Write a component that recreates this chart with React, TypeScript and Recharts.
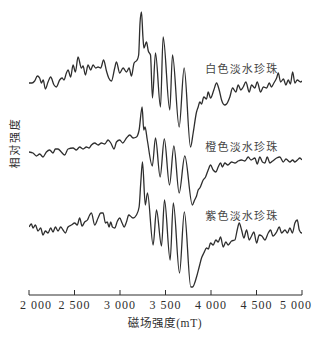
import React from 'react';
import { LineChart, Line, XAxis, YAxis, ReferenceDot } from 'recharts';

// [magnetic field (mT), relative intensity], traces stacked top to bottom
const whitePearl: [number, number][] = [
  [2000, 212], [2033, 212], [2062, 214], [2092, 219], [2117, 217], [2136, 212], [2156, 215], [2180, 206],
  [2209, 213], [2238, 218], [2275, 210], [2301, 208], [2337, 215], [2363, 217], [2385, 215], [2411, 222],
  [2429, 225], [2458, 218], [2484, 230], [2510, 223], [2539, 238], [2576, 227], [2594, 229], [2620, 220],
  [2649, 230], [2678, 225], [2704, 230], [2733, 227], [2759, 228], [2788, 227], [2820, 235], [2851, 224],
  [2876, 217], [2906, 214], [2942, 227], [2961, 233], [2997, 222], [3034, 227], [3071, 223], [3100, 227],
  [3126, 219], [3155, 232], [3188, 235], [3205, 240], [3220, 272], [3236, 283], [3252, 258], [3263, 247],
  [3291, 253], [3311, 244], [3335, 240], [3357, 197], [3390, 242], [3445, 188], [3474, 258], [3547, 185],
  [3577, 240], [3650, 168], [3705, 227], [3775, 148], [3804, 162], [3841, 183], [3859, 188], [3877, 193],
  [3896, 191], [3921, 198], [3951, 196], [3969, 203], [3995, 197], [4031, 205], [4061, 212], [4090, 205],
  [4116, 195], [4150, 190], [4171, 191], [4207, 198], [4237, 207], [4273, 203], [4299, 210], [4328, 205],
  [4354, 208], [4383, 213], [4420, 203], [4446, 210], [4482, 207], [4508, 213], [4545, 203], [4576, 208],
  [4611, 207], [4640, 212], [4664, 208], [4691, 212], [4721, 217], [4739, 222], [4765, 213], [4796, 216],
  [4823, 210], [4849, 215], [4873, 211], [4897, 223], [4922, 212], [4948, 215], [4985, 213], [5000, 214],
];

const orangePearl: [number, number][] = [
  [2000, 143], [2044, 142], [2081, 139], [2118, 141], [2154, 138], [2191, 143], [2227, 145], [2264, 142],
  [2290, 146], [2319, 146], [2355, 143], [2392, 140], [2429, 146], [2484, 147], [2520, 145], [2557, 148],
  [2594, 146], [2631, 148], [2660, 147], [2686, 150], [2722, 152], [2760, 150], [2796, 152], [2832, 151],
  [2869, 155], [2899, 152], [2935, 146], [2961, 153], [2997, 155], [3030, 152], [3071, 157], [3108, 160],
  [3144, 157], [3181, 158], [3210, 165], [3243, 188], [3261, 165], [3275, 168], [3300, 155], [3355, 129],
  [3390, 157], [3441, 118], [3487, 156], [3544, 110], [3592, 149], [3650, 102], [3712, 139], [3795, 90],
  [3820, 95], [3841, 99], [3859, 105], [3877, 107], [3914, 115], [3940, 118], [3969, 125], [3995, 130],
  [4024, 125], [4053, 123], [4079, 128], [4105, 132], [4125, 128], [4152, 132], [4185, 130], [4226, 133],
  [4263, 132], [4299, 134], [4336, 135], [4372, 134], [4409, 138], [4440, 135], [4482, 137], [4508, 131],
  [4537, 138], [4565, 133], [4592, 132], [4618, 138], [4647, 132], [4677, 134], [4721, 137], [4757, 138],
  [4794, 133], [4824, 136], [4867, 133], [4897, 135], [4922, 133], [4950, 135], [4977, 137], [5000, 135],
];

const purplePearl: [number, number][] = [
  [2000, 68], [2026, 71], [2044, 67], [2070, 70], [2099, 64], [2128, 67], [2154, 60], [2180, 64],
  [2209, 62], [2238, 67], [2264, 63], [2290, 68], [2319, 64], [2348, 68], [2374, 65], [2400, 62],
  [2429, 68], [2466, 70], [2502, 72], [2530, 70], [2557, 77], [2583, 69], [2612, 73], [2642, 75],
  [2667, 80], [2686, 82], [2722, 70], [2759, 77], [2788, 82], [2814, 82], [2840, 72], [2860, 73],
  [2880, 68], [2898, 73], [2917, 68], [2942, 67], [2972, 74], [2997, 77], [3023, 72], [3045, 68],
  [3071, 73], [3096, 80], [3126, 78], [3144, 77], [3181, 80], [3210, 88], [3228, 112], [3247, 133],
  [3278, 90], [3302, 102], [3364, 50], [3401, 85], [3456, 49], [3489, 95], [3551, 35], [3586, 92],
  [3654, 22], [3707, 83], [3778, 8], [3797, 8], [3841, 18], [3870, 28], [3896, 37], [3921, 42],
  [3951, 47], [3971, 46], [3995, 52], [4024, 50], [4053, 55], [4079, 53], [4105, 58], [4134, 48],
  [4163, 53], [4189, 50], [4226, 54], [4262, 55], [4288, 65], [4310, 72], [4336, 65], [4361, 57],
  [4391, 65], [4420, 55], [4446, 59], [4471, 63], [4501, 52], [4530, 60], [4559, 59], [4592, 55],
  [4629, 62], [4655, 65], [4680, 59], [4721, 63], [4750, 68], [4776, 62], [4813, 65], [4840, 62],
  [4867, 67], [4895, 62], [4922, 72], [4948, 75], [4970, 65], [4996, 62], [5000, 62],
];

const fieldTicks = [2000, 2500, 3000, 3500, 4000, 4500, 5000];

const seriesNames = ['白色淡水珍珠', '橙色淡水珍珠', '紫色淡水珍珠'];
const tagFields = [4339, 4339, 4339];
const tagLevels = [227, 149, 80];

const INK = '#2e2e2e';
const SERIF = "'Liberation Serif', 'DejaVu Serif'";
const CJK = "'Noto Sans CJK SC', sans-serif";

const toPoints = (rows: [number, number][]) => rows.map(([field, signal]) => ({ field, signal }));
const series = [whitePearl, orangePearl, purplePearl].map(toPoints);

const fmt = (v: number) => `${Math.floor(v / 1000)} ${String(v % 1000).padStart(3, '0')}`;

const FieldTick = (props: any) => {
  const { x, y, payload, index } = props;
  const shift = index === 0 ? 7 : index === fieldTicks.length - 1 ? -6 : 0;
  return (
    <g>
      <line x1={x} x2={x} y1={y} y2={y - 5} stroke={INK} strokeWidth={1} />
      <text x={x + shift} y={y + 14} textAnchor="middle" fontSize={12} letterSpacing={1} fontFamily={`${SERIF}, serif`} fill={INK}>
        {fmt(payload.value)}
      </text>
    </g>
  );
};

const tag = (name: string) => (props: any) => {
  const vb = props.viewBox || {};
  const cx = (vb.x || 0) + (vb.width || 0) / 2;
  const cy = (vb.y || 0) + (vb.height || 0) / 2;
  return (
    <text x={cx} y={cy} textAnchor="middle" dominantBaseline="central" fontSize={11} letterSpacing={1.2} fontFamily={CJK} fill="#444">
      {name}
    </text>
  );
};

export default function App() {
  return (
    <div style={{ position: 'absolute', left: 0, top: 0, width: 318, height: 339, background: '#fff' }}>
      <LineChart width={318} height={339} margin={{ top: 10, right: 16, bottom: 14, left: 29 }}>
        <XAxis
          type="number"
          dataKey="field"
          domain={[2000, 5000]}
          ticks={fieldTicks}
          allowDataOverflow
          height={30}
          tickSize={0}
          tickMargin={0}
          tickLine={false}
          tick={<FieldTick />}
          axisLine={{ stroke: INK, strokeWidth: 1.2 }}
        />
        <YAxis yAxisId="left" type="number" domain={[0, 285]} width={0} tick={false} tickLine={false} axisLine={{ stroke: INK, strokeWidth: 1.2 }} />
        <YAxis yAxisId="right" orientation="right" type="number" domain={[0, 285]} width={0} tick={false} tickLine={false} axisLine={{ stroke: INK, strokeWidth: 1.2 }} />
        {series.map((pts, i) => (
          <Line
            key={seriesNames[i]}
            yAxisId="left"
            data={pts}
            dataKey="signal"
            type="monotone"
            stroke={INK}
            strokeWidth={1.3}
            dot={false}
            activeDot={false}
            isAnimationActive={false}
          />
        ))}
        {seriesNames.map((name, i) => (
          <ReferenceDot
            key={`tag-${name}`}
            yAxisId="left"
            x={tagFields[i]}
            y={tagLevels[i]}
            r={0}
            fill="none"
            stroke="none"
            label={{ content: tag(name) }}
          />
        ))}
      </LineChart>
      <div
        style={{
          position: 'absolute', left: 95, top: 315, width: 140, height: 16, lineHeight: '16px',
          textAlign: 'center', fontSize: 11.5, letterSpacing: 0.6, color: INK, fontFamily: `${SERIF}, ${CJK}`,
        }}
      >
        磁场强度(mT)
      </div>
      <div
        style={{
          position: 'absolute', left: -26, top: 135, width: 80, height: 16, lineHeight: '16px',
          textAlign: 'center', fontSize: 11, letterSpacing: 1.8, color: INK, fontFamily: CJK,
          transform: 'rotate(-90deg)',
        }}
      >
        相对强度
      </div>
    </div>
  );
}
